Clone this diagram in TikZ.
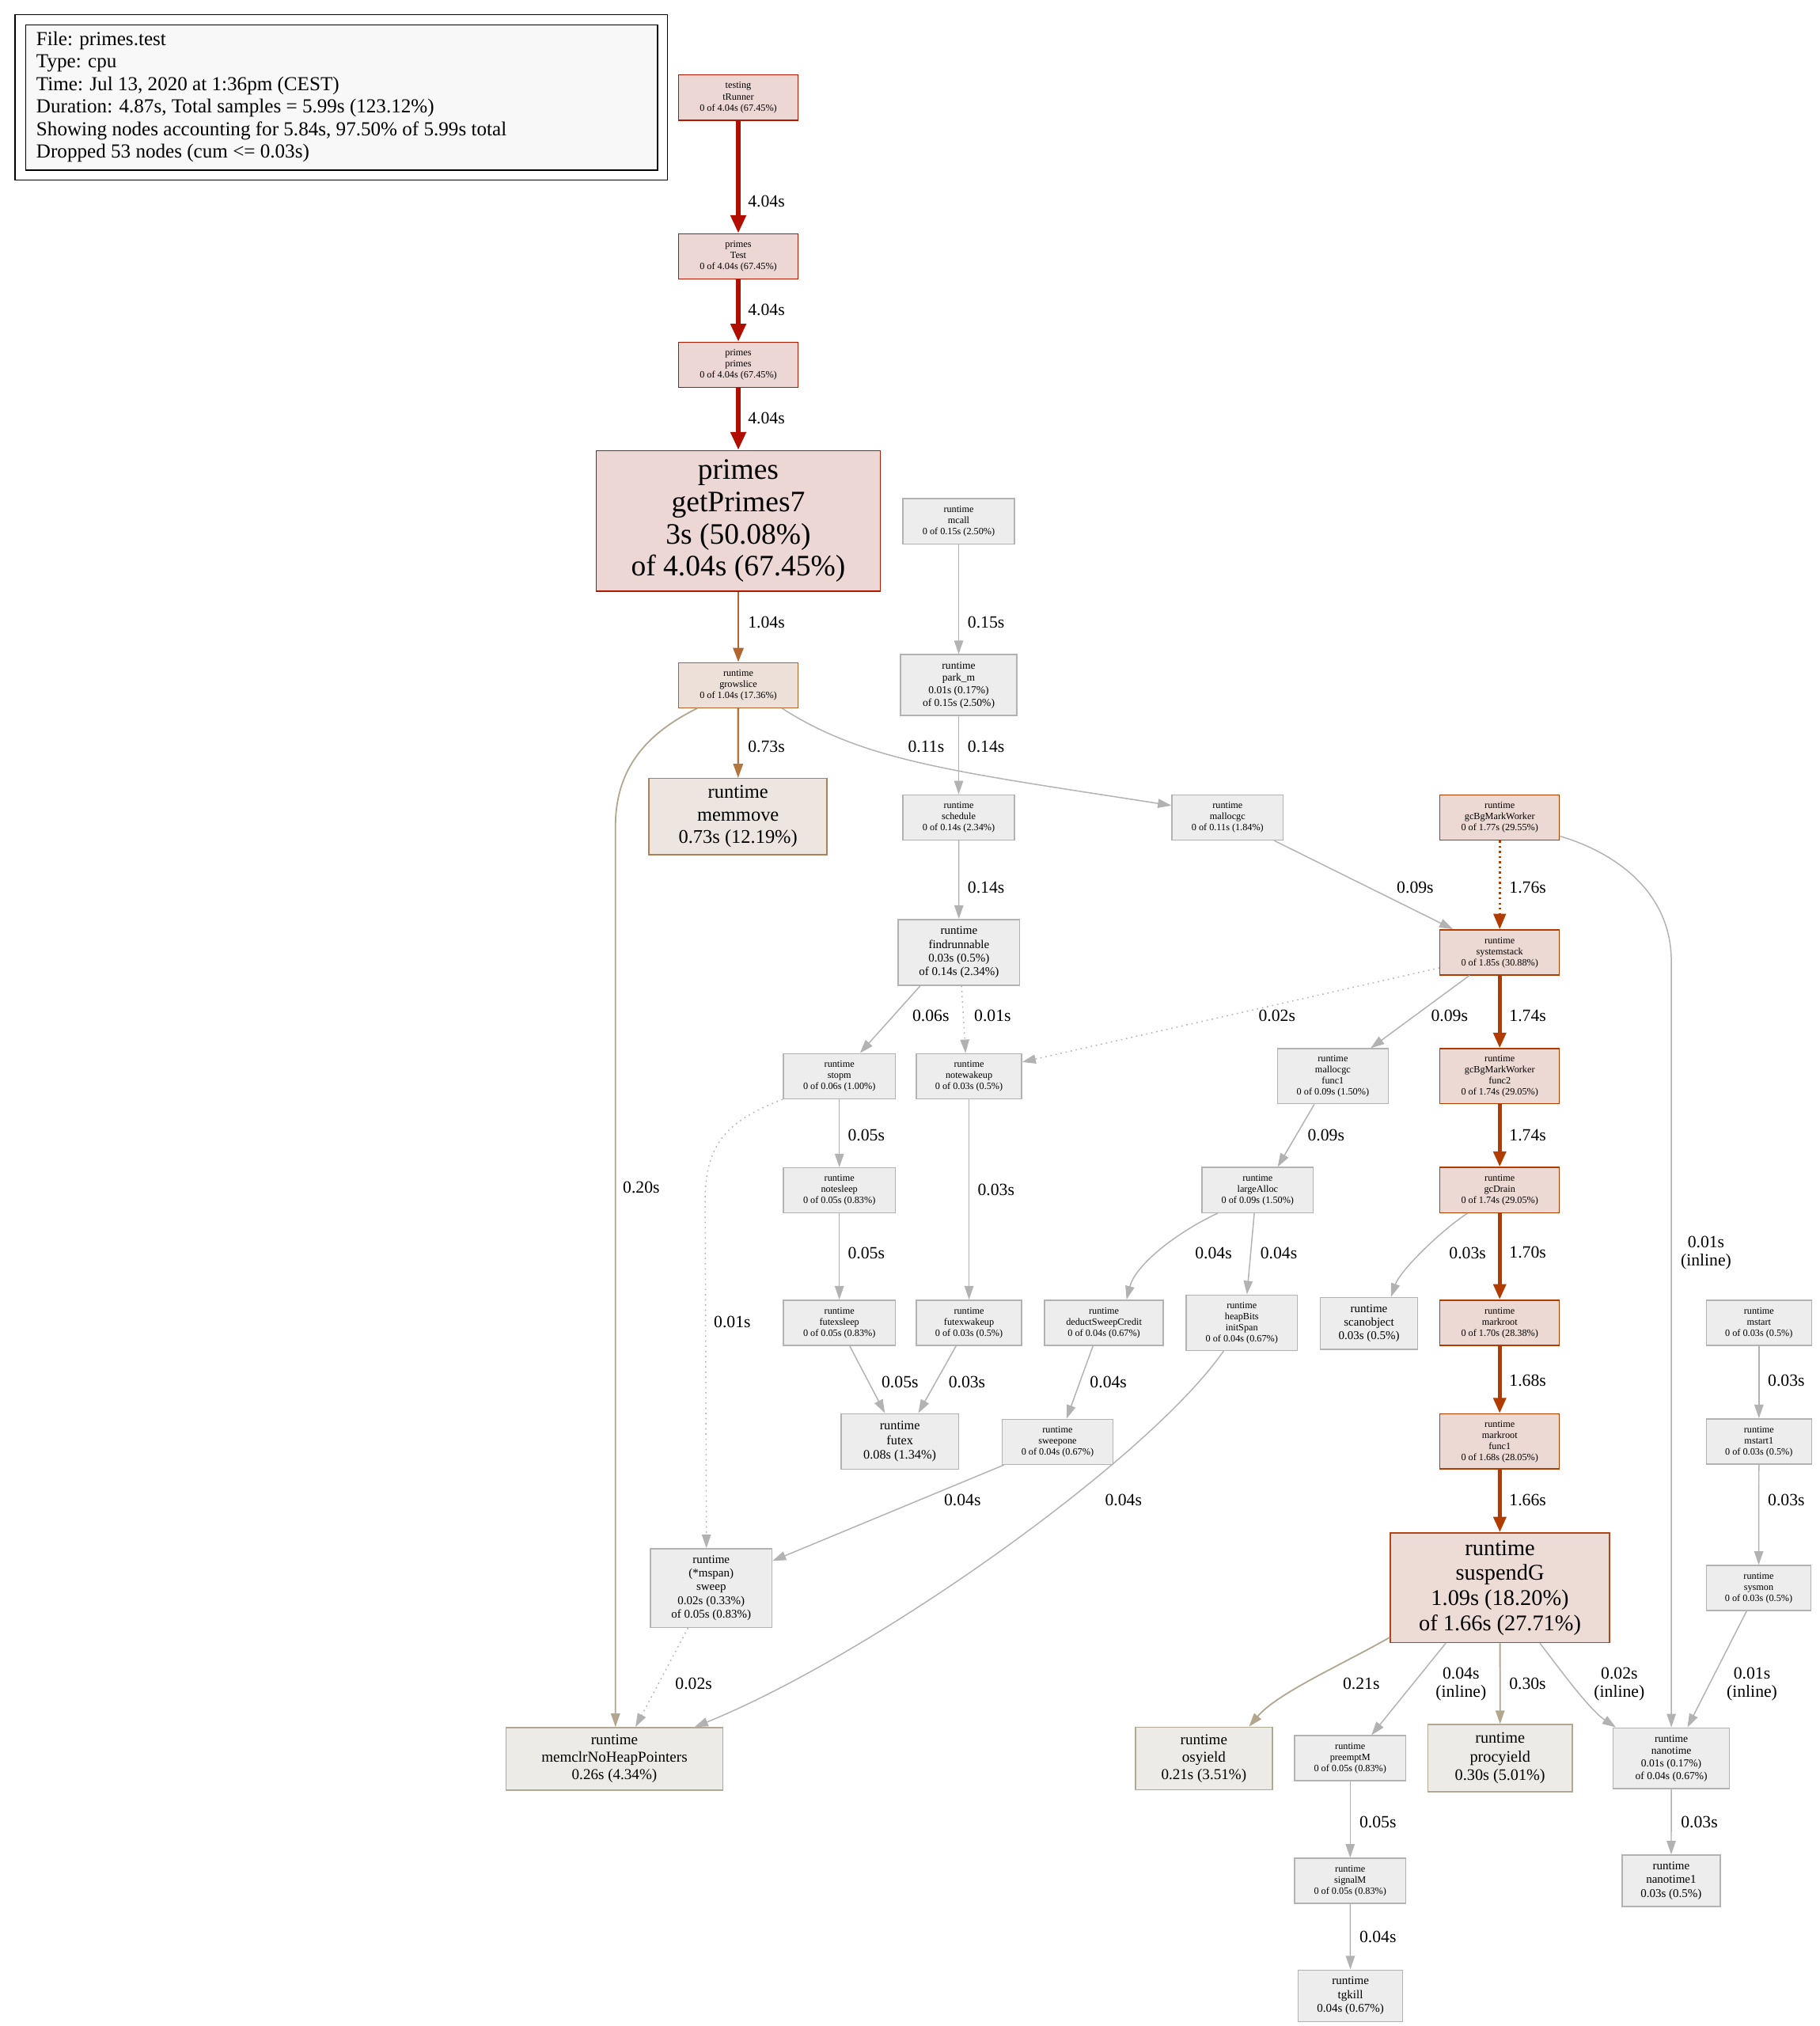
\documentclass[tikz,border=0pt]{standalone}
\usepackage{fontspec}
\setmainfont{Liberation Serif}
\usetikzlibrary{arrows.meta}
\definecolor{legfill}{HTML}{F8F8F8}
\definecolor{redfill}{HTML}{EDD7D5}
\definecolor{reddraw}{HTML}{B21800}
\definecolor{growfill}{HTML}{EDE0D8}
\definecolor{growdraw}{HTML}{B2602A}
\definecolor{movefill}{HTML}{EDE5DF}
\definecolor{movedraw}{HTML}{B27E53}
\definecolor{rustfill}{HTML}{EDD9D3}
\definecolor{rustdraw}{HTML}{B23C00}
\definecolor{suspfill}{HTML}{EDDCD5}
\definecolor{suspdraw}{HTML}{B2441A}
\definecolor{grayfill}{HTML}{EDEDED}
\definecolor{graydraw}{HTML}{B2B2B2}
\definecolor{tanfill}{HTML}{EDEBE7}
\definecolor{tandraw}{HTML}{B2A893}
\definecolor{ered}{HTML}{B20E00}
\definecolor{erust}{HTML}{B23B00}
\definecolor{ewarm}{HTML}{B2652E}
\definecolor{ewarmer}{HTML}{B2763F}
\definecolor{etan}{HTML}{B2A68F}
\definecolor{egray}{HTML}{B2B2B2}

\begin{document}
\begin{tikzpicture}[x=1pt,y=-1pt,
            box/.style={draw, rectangle, align=center, inner sep=0pt, line width=0.9pt},
            wh/.style 2 args={minimum width=#1pt, minimum height=#2pt},
            redbox/.style={box, fill=redfill, draw=reddraw},
            growbox/.style={box, fill=growfill, draw=growdraw},
            movebox/.style={box, fill=movefill, draw=movedraw},
            rustbox/.style={box, fill=rustfill, draw=rustdraw},
            suspbox/.style={box, fill=suspfill, draw=suspdraw},
            graybox/.style={box, fill=grayfill, draw=graydraw},
            tanbox/.style={box, fill=tanfill, draw=tandraw},
            fs/.style={font=\fontsize{7.5}{8.6}\selectfont},
            fpk/.style={font=\fontsize{8.3}{9.6}\selectfont},
            fmd/.style={font=\fontsize{9.2}{10.6}\selectfont},
            ffx/.style={font=\fontsize{10}{11.5}\selectfont},
            fos/.style={font=\fontsize{11.7}{13.6}\selectfont},
            fpy/.style={font=\fontsize{12.4}{14.3}\selectfont},
            fmm/.style={font=\fontsize{15}{17.5}\selectfont},
            fsg/.style={font=\fontsize{17.4}{19.4}\selectfont},
            fgp/.style={font=\fontsize{23}{25}\selectfont},
            elabel/.style={font=\fontsize{13.3}{14}\selectfont, align=center, inner sep=0pt},
            leg/.style={font=\fontsize{15.4}{17.5}\selectfont, anchor=base west, inner sep=0pt},
            gedge/.style={draw=egray, line width=0.9pt, -{Triangle[length=10.5pt,width=7pt]}},
            gdot/.style={gedge, dash pattern=on 1pt off 3pt},
            tanedge/.style={gedge, draw=etan, line width=1.1pt},
            hotred/.style={draw=ered, line width=4pt, -{Triangle[length=14pt,width=11.5pt]}},
            hotrust/.style={draw=erust, line width=3pt, -{Triangle[length=12pt,width=9.5pt]}},
            rustdot/.style={hotrust, line width=2pt, dash pattern=on 1.5pt off 2.5pt},
            warm/.style={draw=ewarm, line width=1.8pt, -{Triangle[length=11pt,width=8pt]}},
            warmer/.style={draw=ewarmer, line width=1.5pt, -{Triangle[length=11pt,width=7.5pt]}}]
            \fill[white] (0,0) rectangle (1410,1570);
            \draw[line width=0.9pt] (11.6,11.4) rectangle (517.3,139.6);
            \filldraw[fill=legfill, line width=0.9pt] (19.8,19.3) rectangle (509.6,131.9);
            \node[leg] (leg1) at (28,35) {File: primes.test};
            \node[leg] (leg2) at (28,52.5) {Type: cpu};
            \node[leg] (leg3) at (28,70) {Time: Jul 13, 2020 at 1:36pm (CEST)};
            \node[leg] (leg4) at (28,87.5) {Duration: 4.87s, Total samples = 5.99s (123.12\%)};
            \node[leg] (leg5) at (28,105) {Showing nodes accounting for 5.84s, 97.50\% of 5.99s total};
            \node[leg] (leg6) at (28,122.5) {Dropped 53 nodes (cum <= 0.03s)};

            \node[redbox, fs, wh={92.4}{35}] (trun) at (572.2,75.6) {testing\\tRunner\\0 of 4.04s (67.45\%)};
            \node[redbox, fs, wh={92.4}{35}] (ptest) at (572.2,198.7) {primes\\Test\\0 of 4.04s (67.45\%)};
            \node[redbox, fs, wh={92.4}{35}] (pprim) at (572.2,282.8) {primes\\primes\\0 of 4.04s (67.45\%)};
            \node[redbox, fgp, wh={220}{109}] (gp7) at (572.2,403.7) {primes\\getPrimes7\\3s (50.08\%)\\of 4.04s (67.45\%)};
            \node[growbox, fs, wh={92.4}{35}] (grow) at (572.2,531) {runtime\\growslice\\0 of 1.04s (17.36\%)};
            \node[movebox, fmm, wh={138}{59}] (mmove) at (572,632.8) {runtime\\memmove\\0.73s (12.19\%)};
            \node[graybox, fs, wh={86.5}{35}] (mcall) at (743,404) {runtime\\mcall\\0 of 0.15s (2.50\%)};
            \node[graybox, fpk, wh={90}{47}] (parkm) at (743,530.8) {runtime\\park\_m\\0.01s (0.17\%)\\of 0.15s (2.50\%)};
            \node[graybox, fs, wh={86.5}{35}] (sched) at (743,633.5) {runtime\\schedule\\0 of 0.14s (2.34\%)};
            \node[graybox, fs, wh={86.2}{35}] (mgc) at (951.4,633.5) {runtime\\mallocgc\\0 of 0.11s (1.84\%)};
            \node[rustbox, fs, wh={92.6}{35}] (gcbg) at (1162.3,633.5) {runtime\\gcBgMarkWorker\\0 of 1.77s (29.55\%)};
            \node[graybox, fmd, wh={94}{51}] (frun) at (743.2,738) {runtime\\findrunnable\\0.03s (0.5\%)\\of 0.14s (2.34\%)};
            \node[rustbox, fs, wh={92.6}{35}] (sstack) at (1162.3,738) {runtime\\systemstack\\0 of 1.85s (30.88\%)};
            \node[graybox, fs, wh={87}{35}] (stopm) at (650.5,834) {runtime\\stopm\\0 of 0.06s (1.00\%)};
            \node[graybox, fs, wh={81.5}{35}] (nwake) at (751,834) {runtime\\notewakeup\\0 of 0.03s (0.5\%)};
            \node[graybox, fs, wh={86}{42.6}] (mgcf1) at (1033,834) {runtime\\mallocgc\\func1\\0 of 0.09s (1.50\%)};
            \node[rustbox, fs, wh={92.6}{42.6}] (gcbgf2) at (1162.3,834) {runtime\\gcBgMarkWorker\\func2\\0 of 1.74s (29.05\%)};
            \node[graybox, fs, wh={87}{35}] (nsleep) at (650.5,922.5) {runtime\\notesleep\\0 of 0.05s (0.83\%)};
            \node[graybox, fs, wh={86}{35}] (lalloc) at (974.7,922.2) {runtime\\largeAlloc\\0 of 0.09s (1.50\%)};
            \node[rustbox, fs, wh={92.6}{35}] (gdrain) at (1162.3,922.2) {runtime\\gcDrain\\0 of 1.74s (29.05\%)};
            \node[graybox, fs, wh={87}{35}] (fsleep) at (650.5,1025) {runtime\\futexsleep\\0 of 0.05s (0.83\%)};
            \node[graybox, fs, wh={81.5}{35}] (fwake) at (751,1025) {runtime\\futexwakeup\\0 of 0.03s (0.5\%)};
            \node[graybox, fs, wh={92}{35}] (dsc) at (855.6,1025) {runtime\\deductSweepCredit\\0 of 0.04s (0.67\%)};
            \node[graybox, fs, wh={86}{43}] (hbits) at (962.4,1025) {runtime\\heapBits\\initSpan\\0 of 0.04s (0.67\%)};
            \node[graybox, fmd, wh={75.5}{40}] (scan) at (1061,1025.5) {runtime\\scanobject\\0.03s (0.5\%)};
            \node[rustbox, fs, wh={92.6}{35}] (mroot) at (1162.3,1025) {runtime\\markroot\\0 of 1.70s (28.38\%)};
            \node[graybox, fs, wh={81.5}{35}] (mstart) at (1363.2,1025) {runtime\\mstart\\0 of 0.03s (0.5\%)};
            \node[graybox, ffx, wh={91}{43}] (futex) at (697.4,1117) {runtime\\futex\\0.08s (1.34\%)};
            \node[graybox, fs, wh={86}{35}] (swone) at (819.6,1117.3) {runtime\\sweepone\\0 of 0.04s (0.67\%)};
            \node[rustbox, fs, wh={92.6}{42.6}] (mrootf1) at (1162.3,1117) {runtime\\markroot\\func1\\0 of 1.68s (28.05\%)};
            \node[graybox, fs, wh={81.5}{35}] (mstart1) at (1363.2,1117) {runtime\\mstart1\\0 of 0.03s (0.5\%)};
            \node[graybox, fmd, wh={94}{61}] (sweep) at (551.2,1230.6) {runtime\\(*mspan)\\sweep\\0.02s (0.33\%)\\of 0.05s (0.83\%)};
            \node[suspbox, fsg, wh={170}{85}] (susp) at (1162.5,1230.4) {runtime\\suspendG\\1.09s (18.20\%)\\of 1.66s (27.71\%)};
            \node[graybox, fs, wh={81}{35}] (sysmon) at (1363,1230.6) {runtime\\sysmon\\0 of 0.03s (0.5\%)};
            \node[tanbox, fos, wh={168}{48.5}] (memclr) at (476.2,1363) {runtime\\memclrNoHeapPointers\\0.26s (4.34\%)};
            \node[tanbox, fos, wh={106}{48.6}] (osy) at (933,1362.7) {runtime\\osyield\\0.21s (3.51\%)};
            \node[graybox, fs, wh={86}{35}] (preem) at (1046.4,1362.5) {runtime\\preemptM\\0 of 0.05s (0.83\%)};
            \node[tanbox, fpy, wh={112}{52}] (procy) at (1162.6,1362.4) {runtime\\procyield\\0.30s (5.01\%)};
            \node[graybox, fpk, wh={90}{47}] (nano) at (1295.3,1362.5) {runtime\\nanotime\\0.01s (0.17\%)\\of 0.04s (0.67\%)};
            \node[graybox, fs, wh={86}{35}] (sigm) at (1046.4,1457.5) {runtime\\signalM\\0 of 0.05s (0.83\%)};
            \node[graybox, fmd, wh={76}{40}] (nano1) at (1295.2,1457.5) {runtime\\nanotime1\\0.03s (0.5\%)};
            \node[graybox, fmd, wh={81}{40}] (tgk) at (1046.6,1546.6) {runtime\\tgkill\\0.04s (0.67\%)};

            \draw[hotred] (trun) -- (ptest);
            \draw[hotred] (ptest) -- (pprim);
            \draw[hotred] (pprim) -- (gp7);
            \draw[warm] (gp7) -- (grow);
            \draw[warmer] (grow) -- (mmove);
            \draw[tanedge] ([xshift=-32pt]grow.south) .. controls (508,565) and (477,590) .. (477,640) -- ([xshift=0.8pt]memclr.north);
            \draw[gedge] ([xshift=34pt]grow.south) .. controls (670,590) and (740,598) .. ([yshift=9.3pt]mgc.west);
            \draw[gedge] (mcall) -- (parkm);
            \draw[gedge] (parkm) -- (sched);
            \draw[gedge] (sched) -- (frun);
            \draw[gedge] (mgc) -- (sstack);
            \draw[rustdot] (gcbg) -- (sstack);
            \draw[gedge] ([yshift=-14.5pt]gcbg.east) .. controls (1250,660) and (1295.3,690) .. (1295.3,745) -- (nano.north);
            \draw[hotrust] (sstack) -- (gcbgf2);
            \draw[hotrust] (gcbgf2) -- (gdrain);
            \draw[gedge] ([xshift=-23.5pt]sstack.south) -- ([xshift=29.3pt]mgcf1.north);
            \draw[gdot] ([yshift=-12pt]sstack.west) -- ([yshift=11pt]nwake.east);
            \draw[gedge] ([xshift=-30pt]frun.south) -- ([xshift=16pt]stopm.north);
            \draw[gdot] ([xshift=2pt]frun.south) -- ([xshift=-2.7pt]nwake.north);
            \draw[gedge] (stopm) -- (nsleep);
            \draw[gedge] (nsleep) -- (fsleep);
            \draw[gdot] (stopm.south west) .. controls (565,868) and (546.5,885) .. (546.5,930) -- ([xshift=-3.7pt]sweep.north);
            \draw[gedge] (nwake) -- (fwake);
            \draw[gedge] ([xshift=8pt]fsleep.south) -- ([xshift=-11.6pt]futex.north);
            \draw[gedge] ([xshift=-10pt]fwake.south) -- ([xshift=14.3pt]futex.north);
            \draw[gedge] ([xshift=-14.4pt]mgcf1.south) -- ([xshift=15.5pt]lalloc.north);
            \draw[gedge] ([xshift=-31pt]lalloc.south) .. controls (912,955) and (880,980) .. ([xshift=17.5pt]dsc.north);
            \draw[gedge] ([xshift=-2.6pt]lalloc.south) -- ([xshift=4pt]hbits.north);
            \draw[gedge] ([xshift=-25pt]gdrain.south) .. controls (1115,955) and (1085,985) .. ([xshift=17pt]scan.north);
            \draw[hotrust] (gdrain) -- (mroot);
            \draw[hotrust] (mroot) -- (mrootf1);
            \draw[hotrust] (mrootf1) -- (susp);
            \draw[gedge] (mstart) -- (mstart1);
            \draw[gedge] (mstart1) -- (sysmon);
            \draw[gedge] ([xshift=-8.5pt]dsc.south) -- ([xshift=7pt]swone.north);
            \draw[gedge] ([xshift=-41.6pt]swone.south) -- ([yshift=21pt]sweep.east);
            \draw[gedge] ([xshift=-14.1pt]hbits.south) .. controls (888,1133) and (673,1284) .. ([xshift=62.1pt]memclr.north);
            \draw[gdot] ([xshift=-18pt]sweep.south) -- ([xshift=16.3pt]memclr.north);
            \draw[tanedge] ([yshift=4.5pt]susp.south west) .. controls (1040,1290) and (990,1312) .. ([xshift=35pt]osy.north);
            \draw[gedge] ([xshift=-42pt]susp.south) -- ([xshift=16.5pt]preem.north);
            \draw[tanedge] (susp) -- (procy);
            \draw[gedge] ([xshift=31pt]susp.south) .. controls (1210,1295) and (1232,1325) .. ([xshift=-43pt]nano.north);
            \draw[gedge] ([xshift=-9.4pt]sysmon.south) -- ([xshift=12.5pt]nano.north);
            \draw[gedge] (preem) -- (sigm);
            \draw[gedge] (sigm) -- (tgk);
            \draw[gedge] (nano) -- (nano1);

            \node[elabel] (ltrun) at (594,156) {4.04s};
            \node[elabel] (ltest) at (594,240) {4.04s};
            \node[elabel] (lprim) at (594,324.3) {4.04s};
            \node[elabel] (lgp7) at (594,482.6) {1.04s};
            \node[elabel] (lmove) at (594,578.4) {0.73s};
            \node[elabel] (lclrg) at (497,920) {0.20s};
            \node[elabel] (lmgcg) at (717.8,578.4) {0.11s};
            \node[elabel] (lmcall) at (764.2,482.6) {0.15s};
            \node[elabel] (lpark) at (764.2,578.4) {0.14s};
            \node[elabel] (lsched) at (764.2,687.7) {0.14s};
            \node[elabel] (lmgc) at (1096.8,687.7) {0.09s};
            \node[elabel] (lgcbg) at (1184,687.7) {1.76s};
            \node[elabel] (lnanog) at (1322.2,971) {0.01s\\(inline)};
            \node[elabel] (lstopm) at (721.4,787) {0.06s};
            \node[elabel] (lnwf) at (769.3,787) {0.01s};
            \node[elabel] (lnws) at (989.7,787) {0.02s};
            \node[elabel] (lmgcf) at (1123.4,787) {0.09s};
            \node[elabel] (lf2) at (1184,787) {1.74s};
            \node[elabel] (lnsleep) at (671.4,879.8) {0.05s};
            \node[elabel] (lfwake) at (772,921.9) {0.03s};
            \node[elabel] (llalloc) at (1027.7,879.8) {0.09s};
            \node[elabel] (ldrain) at (1184,879.6) {1.74s};
            \node[elabel] (lfsleep) at (671.4,971) {0.05s};
            \node[elabel] (ldsc) at (940.5,971) {0.04s};
            \node[elabel] (lhbits) at (991.1,971) {0.04s};
            \node[elabel] (lscan) at (1137.4,971) {0.03s};
            \node[elabel] (lmroot) at (1184,970.7) {1.70s};
            \node[elabel] (lsweep) at (567.5,1024.5) {0.01s};
            \node[elabel] (lfutexs) at (697.5,1070.8) {0.05s};
            \node[elabel] (lfutexw) at (749.4,1070.8) {0.03s};
            \node[elabel] (lswone) at (859,1070.8) {0.04s};
            \node[elabel] (lmrootf) at (1184,1070) {1.68s};
            \node[elabel] (lmstart) at (1384.4,1070) {0.03s};
            \node[elabel] (lswsw) at (745.9,1162.5) {0.04s};
            \node[elabel] (lclrh) at (870.7,1162.5) {0.04s};
            \node[elabel] (lsusp) at (1184,1162.5) {1.66s};
            \node[elabel] (lsysmon) at (1384.4,1162.5) {0.03s};
            \node[elabel] (lclrs) at (537.6,1304.5) {0.02s};
            \node[elabel] (losy) at (1055,1305) {0.21s};
            \node[elabel] (lpreem) at (1132.3,1305) {0.04s\\(inline)};
            \node[elabel] (lprocy) at (1183.9,1305) {0.30s};
            \node[elabel] (lnanos) at (1255,1305) {0.02s\\(inline)};
            \node[elabel] (lnanom) at (1357.8,1305) {0.01s\\(inline)};
            \node[elabel] (lsigm) at (1067.9,1412) {0.05s};
            \node[elabel] (lnano1) at (1317,1412) {0.03s};
            \node[elabel] (ltgk) at (1067.9,1501) {0.04s};
        \end{tikzpicture}
\end{document}
